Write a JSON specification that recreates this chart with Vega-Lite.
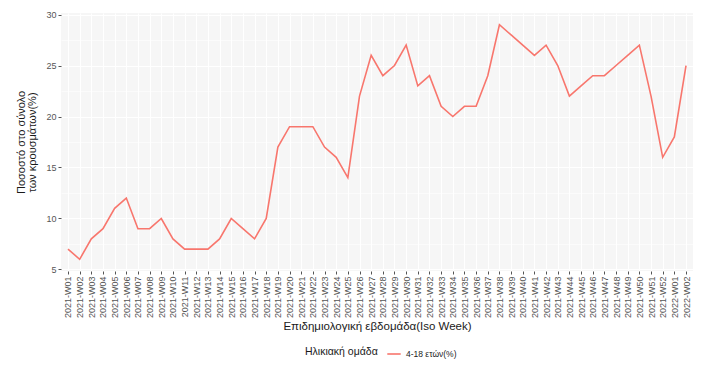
{
  "$schema": "https://vega.github.io/schema/vega-lite/v6.json",
  "width": 632,
  "height": 258,
  "autosize": {"type": "none"},
  "padding": {"left": 61, "top": 13, "right": 18, "bottom": 108},
  "background": "white",
  "config": {
    "font": "Liberation Sans",
    "view": {"fill": "#F6F6F6", "stroke": null},
    "axis": {"domain": false, "gridColor": "#FFFFFF", "gridWidth": 1.1, "tickColor": "#555555", "tickSize": 3, "labelColor": "#555555", "labelFontSize": 9, "titleColor": "#1a1a1a", "titleFontSize": 11, "titleFontWeight": "normal"}
  },
  "data": {"values": [
    {"week": "2021-W01", "value": 7, "group": "4-18 ετών(%)"},
    {"week": "2021-W02", "value": 6, "group": "4-18 ετών(%)"},
    {"week": "2021-W03", "value": 8, "group": "4-18 ετών(%)"},
    {"week": "2021-W04", "value": 9, "group": "4-18 ετών(%)"},
    {"week": "2021-W05", "value": 11, "group": "4-18 ετών(%)"},
    {"week": "2021-W06", "value": 12, "group": "4-18 ετών(%)"},
    {"week": "2021-W07", "value": 9, "group": "4-18 ετών(%)"},
    {"week": "2021-W08", "value": 9, "group": "4-18 ετών(%)"},
    {"week": "2021-W09", "value": 10, "group": "4-18 ετών(%)"},
    {"week": "2021-W10", "value": 8, "group": "4-18 ετών(%)"},
    {"week": "2021-W11", "value": 7, "group": "4-18 ετών(%)"},
    {"week": "2021-W12", "value": 7, "group": "4-18 ετών(%)"},
    {"week": "2021-W13", "value": 7, "group": "4-18 ετών(%)"},
    {"week": "2021-W14", "value": 8, "group": "4-18 ετών(%)"},
    {"week": "2021-W15", "value": 10, "group": "4-18 ετών(%)"},
    {"week": "2021-W16", "value": 9, "group": "4-18 ετών(%)"},
    {"week": "2021-W17", "value": 8, "group": "4-18 ετών(%)"},
    {"week": "2021-W18", "value": 10, "group": "4-18 ετών(%)"},
    {"week": "2021-W19", "value": 17, "group": "4-18 ετών(%)"},
    {"week": "2021-W20", "value": 19, "group": "4-18 ετών(%)"},
    {"week": "2021-W21", "value": 19, "group": "4-18 ετών(%)"},
    {"week": "2021-W22", "value": 19, "group": "4-18 ετών(%)"},
    {"week": "2021-W23", "value": 17, "group": "4-18 ετών(%)"},
    {"week": "2021-W24", "value": 16, "group": "4-18 ετών(%)"},
    {"week": "2021-W25", "value": 14, "group": "4-18 ετών(%)"},
    {"week": "2021-W26", "value": 22, "group": "4-18 ετών(%)"},
    {"week": "2021-W27", "value": 26, "group": "4-18 ετών(%)"},
    {"week": "2021-W28", "value": 24, "group": "4-18 ετών(%)"},
    {"week": "2021-W29", "value": 25, "group": "4-18 ετών(%)"},
    {"week": "2021-W30", "value": 27, "group": "4-18 ετών(%)"},
    {"week": "2021-W31", "value": 23, "group": "4-18 ετών(%)"},
    {"week": "2021-W32", "value": 24, "group": "4-18 ετών(%)"},
    {"week": "2021-W33", "value": 21, "group": "4-18 ετών(%)"},
    {"week": "2021-W34", "value": 20, "group": "4-18 ετών(%)"},
    {"week": "2021-W35", "value": 21, "group": "4-18 ετών(%)"},
    {"week": "2021-W36", "value": 21, "group": "4-18 ετών(%)"},
    {"week": "2021-W37", "value": 24, "group": "4-18 ετών(%)"},
    {"week": "2021-W38", "value": 29, "group": "4-18 ετών(%)"},
    {"week": "2021-W39", "value": 28, "group": "4-18 ετών(%)"},
    {"week": "2021-W40", "value": 27, "group": "4-18 ετών(%)"},
    {"week": "2021-W41", "value": 26, "group": "4-18 ετών(%)"},
    {"week": "2021-W42", "value": 27, "group": "4-18 ετών(%)"},
    {"week": "2021-W43", "value": 25, "group": "4-18 ετών(%)"},
    {"week": "2021-W44", "value": 22, "group": "4-18 ετών(%)"},
    {"week": "2021-W45", "value": 23, "group": "4-18 ετών(%)"},
    {"week": "2021-W46", "value": 24, "group": "4-18 ετών(%)"},
    {"week": "2021-W47", "value": 24, "group": "4-18 ετών(%)"},
    {"week": "2021-W48", "value": 25, "group": "4-18 ετών(%)"},
    {"week": "2021-W49", "value": 26, "group": "4-18 ετών(%)"},
    {"week": "2021-W50", "value": 27, "group": "4-18 ετών(%)"},
    {"week": "2021-W51", "value": 22, "group": "4-18 ετών(%)"},
    {"week": "2021-W52", "value": 16, "group": "4-18 ετών(%)"},
    {"week": "2022-W01", "value": 18, "group": "4-18 ετών(%)"},
    {"week": "2022-W02", "value": 25, "group": "4-18 ετών(%)"}
  ]},
  "layer": [
    {
      "mark": {"type": "line", "opacity": 0},
      "encoding": {
        "x": {"field": "week", "type": "ordinal", "sort": null, "scale": {"type": "point", "padding": 0.6}},
        "y": {
          "field": "value", "type": "quantitative",
          "scale": {"domain": [4.85, 30.15], "nice": false, "zero": false},
          "axis": {"orient": "left", "title": null, "labels": false, "ticks": false, "minExtent": 0, "maxExtent": 0, "values": [7.5, 12.5, 17.5, 22.5, 27.5], "grid": true, "gridWidth": 0.55}
        }
      }
    },
    {
      "mark": {"type": "line", "strokeWidth": 1.6},
      "encoding": {
        "x": {
          "field": "week", "type": "ordinal", "sort": null,
          "scale": {"type": "point", "padding": 0.6},
          "axis": {"title": "Επιδημιολογική εβδομάδα(Iso Week)", "labelAngle": -90, "labelAlign": "right", "labelBaseline": "middle", "labelPadding": 2, "grid": true, "titleFontSize": 11.5, "titlePadding": 3}
        },
        "y": {
          "field": "value", "type": "quantitative",
          "scale": {"domain": [4.85, 30.15], "nice": false, "zero": false},
          "axis": {"orient": "left", "title": ["Ποσοστό στο σύνολο", "των κρουσμάτων(%)"], "values": [5, 10, 15, 20, 25, 30], "grid": true, "labelPadding": 2, "titlePadding": 8, "titleFontSize": 11, "titleLineHeight": 11}
        },
        "color": {
          "field": "group", "type": "nominal",
          "scale": {"range": ["#F8766D"]},
          "legend": {"title": "Ηλικιακή ομάδα", "orient": "none", "legendX": 244, "legendY": 333, "direction": "horizontal", "titleOrient": "left", "titleBaseline": "middle", "titleFontSize": 10.5, "titleFontWeight": "normal", "titleColor": "#1a1a1a", "titlePadding": 8, "labelFontSize": 8.5, "labelColor": "#222222", "symbolType": "stroke", "symbolStrokeWidth": 1.6, "symbolSize": 180, "labelOffset": 4}
        }
      }
    }
  ],
  "resolve": {"axis": {"y": "independent"}}
}
